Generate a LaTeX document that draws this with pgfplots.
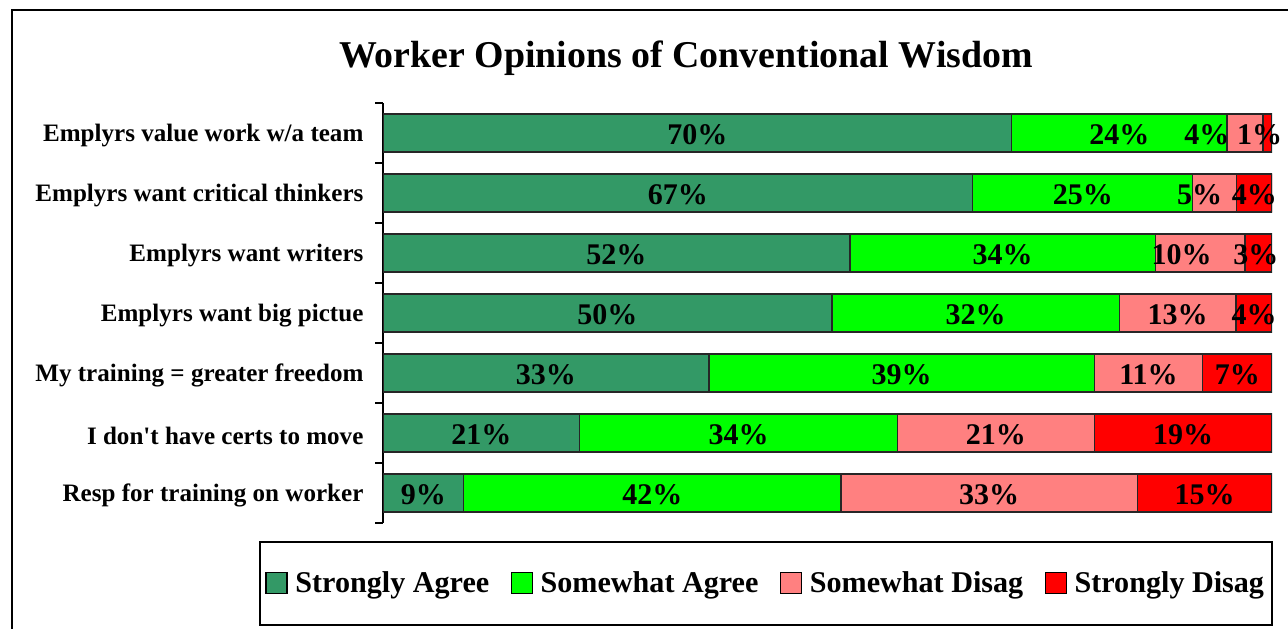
\documentclass[border=0pt]{standalone}
\usepackage{fontspec}
\setmainfont{Liberation Serif}
\usepackage{pgfplots}
\usepackage{pgfplotstable}
\pgfplotsset{compat=1.18}
\definecolor{sa}{HTML}{339966}
\definecolor{wa}{HTML}{00FF00}
\definecolor{wd}{HTML}{FF8080}
\definecolor{sd}{HTML}{FF0000}
% a b c d = percentages; dc dd = small label offsets (axis units)
\pgfplotstableread{
row a b c d dc dd
0 70 24 4 1 -4.3 -0.9
1 67 25 5 4 -1.7 0
2 52 34 10 3 -2.1 -0.3
3 50 32 13 4 0 0
4 33 39 11 7 0 0
5 21 34 21 19 0 0
6 9 42 33 15 0 0
}\data
\newcommand{\tot}{(\thisrow{a}+\thisrow{b}+\thisrow{c}+\thisrow{d})}
\pgfplotsset{
  common/.style={
    at={(287.25pt,78.75pt)}, anchor=south west,
    scale only axis, width=666.75pt, height=315pt,
    xmin=0, xmax=100, ymin=-0.5, ymax=6.5, y dir=reverse,
  },
  lbl/.style={draw=none, mark=none, point meta=explicit,
    nodes near coords={\pgfmathprintnumber[assume math mode=true]{\pgfplotspointmeta}\%},
    every node near coord/.append style={anchor=center, inner sep=0pt, yshift=-1pt,
      font=\fontsize{22.5}{24}\selectfont\bfseries, text=black}},
}
\begin{document}
\begin{tikzpicture}
\useasboundingbox (0,0) rectangle (966pt,471pt);
\draw[line width=2pt] (9pt,-5pt) -- (9pt,463.5pt) -- (980pt,463.5pt);
\begin{axis}[common,
  xbar stacked, bar width=28.5pt,
  axis x line=none, axis y line*=left,
  y axis line style={line width=1pt, -},
  ytick={0,...,6},
  yticklabels={Emplyrs value work w/a team, Emplyrs want critical thinkers, Emplyrs want writers, Emplyrs want big pictue, My training = greater freedom, I don\textquotesingle t have certs to move, Resp for training on worker},
  major tick length=0pt,
  extra y ticks={-0.5,0.5,1.5,2.5,3.5,4.5,5.5,6.5},
  extra y tick labels={},
  extra y tick style={major tick length=6pt, tick align=outside, tick style={line width=1pt, black}},
  yticklabel style={font=\fontsize{18.8}{20}\selectfont\bfseries, inner sep=0pt, xshift=-14.5pt, yshift=-2pt},
  legend columns=4,
  legend style={at={(axis description cs:1.001,-0.0429)}, anchor=north east,
    draw=black, line width=1.2pt, font=\fontsize{22.6}{24}\selectfont\bfseries,
    inner xsep=4pt, inner ysep=20.5pt,
    /tikz/every even column/.append style={column sep=14pt}},
  legend image code/.code={\draw[#1,draw=black,line width=1pt] (0pt,-7.9pt) rectangle (15.75pt,7.9pt); \path (19.5pt,0pt);},
]
\addplot[fill=sa, draw=black!85, line width=1pt] table[x expr={\thisrow{a}/\tot*100}, y=row] \data;
\addlegendentry{Strongly Agree}
\addplot[fill=wa, draw=black!85, line width=1pt] table[x expr={\thisrow{b}/\tot*100}, y=row] \data;
\addlegendentry{Somewhat Agree}
\addplot[fill=wd, draw=black!85, line width=1pt] table[x expr={\thisrow{c}/\tot*100}, y=row] \data;
\addlegendentry{Somewhat Disag}
\addplot[fill=sd, draw=black!85, line width=1pt] table[x expr={\thisrow{d}/\tot*100}, y=row] \data;
\addlegendentry{Strongly Disag}
\end{axis}
\begin{axis}[common, hide axis, clip=false]
\addplot[lbl] table[x expr={0.5*\thisrow{a}/\tot*100}, y=row, meta=a] \data;
\addplot[lbl] table[x expr={(\thisrow{a}+0.5*\thisrow{b})/\tot*100}, y=row, meta=b] \data;
\addplot[lbl] table[x expr={(\thisrow{a}+\thisrow{b}+0.5*\thisrow{c})/\tot*100+\thisrow{dc}}, y=row, meta=c] \data;
\addplot[lbl] table[x expr={(\thisrow{a}+\thisrow{b}+\thisrow{c}+0.5*\thisrow{d})/\tot*100+\thisrow{dd}}, y=row, meta=d] \data;
\end{axis}
\node[anchor=base, font=\fontsize{28.4}{32}\selectfont\bfseries] at (514.5pt,420pt) {Worker Opinions of Conventional Wisdom};
\end{tikzpicture}
\end{document}
